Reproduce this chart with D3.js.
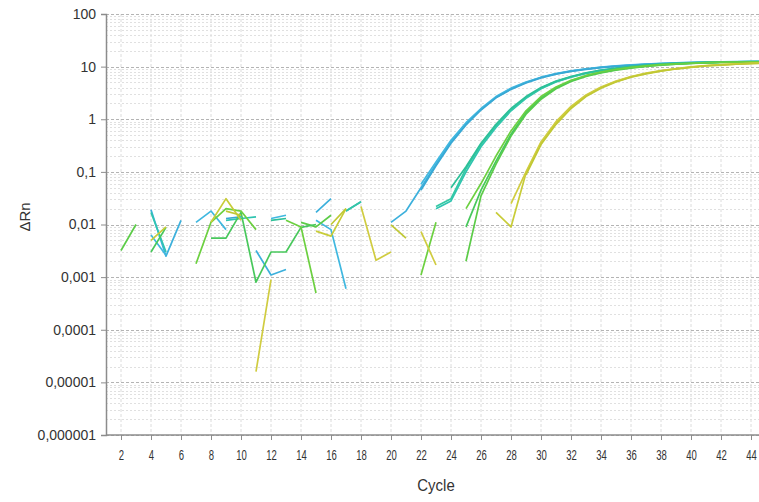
<!DOCTYPE html>
<html>
<head>
<meta charset="utf-8">
<script src="https://cdn.jsdelivr.net/npm/d3@7"></script>
<style>
  body { margin: 0; background: #fff; }
  text { font-family: "Liberation Sans", Arial, sans-serif; fill: #333; }
</style>
</head>
<body>
<script>

// cycle numbers, one value per cycle below (null = negative, not drawn on log axis)
var cycles = d3.range(1, 46);

var xTicks = [2,4,6,8,10,12,14,16,18,20,22,24,26,28,30,32,34,36,38,40,42,44];
var yTicks = [100, 10, 1, 0.1, 0.01, 0.001, 0.0001, 0.00001, 0.000001];
var yTickLabels = ["100","10","1","0,1","0,01","0,001","0,0001","0,00001","0,000001"];

var wellNames = ["B1","B2","B3","T1","T2","T3","G1","G2","G3","Y1","Y2","Y3"];
var wellColors = ["#3cb0dc","#40b8e0","#38a8d4",
                  "#2fc4b0","#34c8a4","#2cc098",
                  "#5ccc48","#48c85c","#6cd040",
                  "#c8cc38","#d0cc40","#c0c834"];

var B1 = [null,null,null,0.019,0.0025,0.012,null,null,null,null,
          0.0032,0.0011,0.0014,null,0.017,0.031,null,null,null,0.011,
          0.018,0.05,0.14,0.38,0.82,1.55,2.6,3.8,5.0,6.2,
          7.3,8.2,9.0,9.7,10.2,10.7,11.1,11.4,11.7,11.9,
          12.1,12.2,12.3,12.4,12.5];
var B2 = [null,null,null,0.0063,0.0026,null,0.011,0.018,0.008,null,
          null,0.013,0.015,null,0.012,0.008,0.0006,null,null,null,
          null,0.058,0.155,0.4,0.86,1.6,2.7,3.9,5.1,6.3,
          7.4,8.3,9.1,9.8,10.3,10.8,11.2,11.5,11.8,12.0,
          12.2,12.3,12.4,12.5,12.6];
var B3 = [null,null,null,null,null,null,null,null,0.013,0.014,
          null,null,null,null,null,null,0.018,0.027,null,null,
          null,0.045,0.13,0.35,0.78,1.5,2.55,3.7,4.9,6.1,
          7.2,8.1,8.9,9.6,10.1,10.6,11.0,11.3,11.6,11.8,
          12.0,12.1,12.2,12.3,12.4];
var T1 = [null,null,null,0.017,0.003,null,null,null,0.012,0.013,
          0.014,null,null,null,null,null,null,null,null,null,
          null,null,0.02,0.028,0.1,0.3,0.7,1.45,2.5,3.8,
          5.1,6.3,7.4,8.4,9.2,9.9,10.5,11.0,11.4,11.7,
          11.9,12.1,12.2,12.3,12.4];
var T2 = [null,null,null,null,null,null,null,null,null,null,
          null,null,null,null,null,null,0.018,0.027,null,null,
          null,null,0.022,0.031,0.115,0.33,0.75,1.5,2.6,3.9,
          5.2,6.4,7.5,8.5,9.3,10.0,10.6,11.1,11.5,11.8,
          12.0,12.2,12.3,12.4,12.5];
var T3 = [null,null,null,null,null,null,null,null,null,null,
          null,0.012,0.013,null,null,null,null,null,null,null,
          null,null,null,0.05,0.125,0.35,0.8,1.6,2.7,4.0,
          5.3,6.5,7.6,8.6,9.4,10.1,10.7,11.2,11.5,11.8,
          12.0,12.2,12.3,12.4,12.5];
var G1 = [null,0.0032,0.01,null,null,null,null,null,null,null,
          null,null,null,0.011,0.009,0.015,null,null,null,null,
          null,null,null,null,0.002,0.035,0.14,0.48,1.25,2.4,
          3.8,5.2,6.5,7.6,8.6,9.4,10.1,10.7,11.1,11.5,
          11.8,12.0,12.1,12.2,12.3];
var G2 = [null,null,null,0.003,0.0088,null,null,0.0055,0.0055,0.017,
          0.0008,0.003,0.003,0.0088,0.01,null,null,null,null,null,
          null,null,null,null,0.009,0.045,0.16,0.52,1.35,2.55,
          3.95,5.35,6.65,7.75,8.75,9.55,10.2,10.8,11.2,11.55,
          11.85,12.05,12.15,12.25,12.35];
var G3 = [null,null,null,null,null,null,0.0018,0.011,0.02,0.018,
          0.008,null,0.012,0.009,0.0005,null,null,null,null,null,
          null,0.0011,0.011,null,0.02,0.06,0.2,0.6,1.45,2.7,
          4.1,5.5,6.8,7.9,8.9,9.7,10.3,10.9,11.3,11.6,
          11.9,12.1,12.2,12.3,12.4];
var Y1 = [null,null,null,0.005,0.009,null,null,0.011,0.031,0.012,
          null,null,null,null,0.0075,0.006,0.02,null,null,null,
          null,null,null,null,null,null,0.017,0.009,0.095,0.35,
          0.85,1.7,2.8,4.0,5.2,6.4,7.4,8.3,9.1,9.8,
          10.4,10.8,11.2,11.5,11.7];
var Y2 = [null,null,null,null,null,null,null,null,null,null,
          0.000016,0.0009,null,null,null,null,null,0.022,0.0021,0.003,
          null,0.0073,0.0017,null,null,null,null,0.025,0.1,0.37,
          0.9,1.75,2.9,4.1,5.3,6.5,7.5,8.4,9.2,9.9,
          10.5,10.9,11.3,11.6,11.8];
var Y3 = [null,null,null,null,null,null,null,null,0.018,0.015,
          null,null,null,null,null,0.01,0.02,null,null,0.0098,
          0.0055,null,null,null,null,null,null,null,0.088,0.33,
          0.8,1.6,2.7,3.9,5.1,6.3,7.3,8.2,9.0,9.7,
          10.3,10.7,11.1,11.4,11.6];

var wellValues = [B1,B2,B3,T1,T2,T3,G1,G2,G3,Y1,Y2,Y3];

var width = 759,
    height = 502;

var margin = {left: 106, top: 14, bottom: 435};

var x = d3.scaleLinear().domain([1, 45]).range([margin.left, margin.left + 15 * 44]);
var y = d3.scaleLog().domain([0.000001, 100]).range([margin.bottom, margin.top]);

var svg = d3.select('body').append("svg")
            .attr("width", width)
            .attr("height", height);

svg.append("clipPath").attr("id", "plotclip")
   .append("rect")
   .attr("x", margin.left).attr("y", margin.top - 2)
   .attr("width", width - margin.left).attr("height", margin.bottom - margin.top + 2);

//vertical grid at even cycles
svg.append("g").selectAll("line")
   .data(xTicks)
   .enter().append("line")
   .attr("x1", d => x(d)).attr("x2", d => x(d))
   .attr("y1", margin.top).attr("y2", margin.bottom)
   .attr("stroke", "#dcdcdc")
   .attr("stroke-dasharray", "3,2");

//minor horizontal grid (2..9 of each decade)
var minor = [];
yTicks.forEach(function(t) {
  if (t >= 100) return;
  for (var k = 2; k <= 9; k++) minor.push(t * k);
});
svg.append("g").selectAll("line")
   .data(minor)
   .enter().append("line")
   .attr("x1", margin.left).attr("x2", width)
   .attr("y1", d => Math.round(y(d)) + 0.5).attr("y2", d => Math.round(y(d)) + 0.5)
   .attr("stroke", "#e0e0e0")
   .attr("stroke-dasharray", "2,2");

//major horizontal grid at decades
svg.append("g").selectAll("line")
   .data(yTicks)
   .enter().append("line")
   .attr("x1", margin.left).attr("x2", width)
   .attr("y1", d => Math.round(y(d)) + 0.5).attr("y2", d => Math.round(y(d)) + 0.5)
   .attr("stroke", "#b4b4b4")
   .attr("stroke-dasharray", "3,2");

//the curves
var line = d3.line()
    .defined(d => d.v != null)
    .x(d => x(d.c))
    .y(d => y(d.v));

svg.append("g").attr("clip-path", "url(#plotclip)")
   .selectAll("path")
   .data(wellNames)
   .enter().append("path")
   .attr("fill", "none")
   .attr("stroke", (d, i) => wellColors[i])
   .attr("stroke-width", 1.7)
   .attr("stroke-linejoin", "round")
   .attr("d", function(d, i) {
      return line(cycles.map((c, j) => ({c: c, v: wellValues[i][j]})));
   });

//axes
var yAxis = d3.axisLeft(y).tickValues(yTicks).tickSize(5).tickFormat((d, i) => yTickLabels[i]);
var gy = svg.append("g").attr("transform", "translate(" + margin.left + ",0)").call(yAxis);
gy.select(".domain").attr("stroke", "#8c8c8c").attr("stroke-width", 1.5);
gy.selectAll(".tick line").attr("stroke", "#8c8c8c");
gy.selectAll(".tick text")
  .attr("x", -10)
  .style("font-size", "14px")
  .style("font-family", "Liberation Sans, Arial, sans-serif")
  .attr("fill", "#333");

var xAxis = d3.axisBottom(x).tickValues(xTicks).tickSize(5).tickFormat(d3.format("d"));
var gx = svg.append("g").attr("transform", "translate(0," + margin.bottom + ")").call(xAxis);
gx.select(".domain").attr("stroke", "#8c8c8c").attr("stroke-width", 1.5)
  .attr("d", "M" + margin.left + ",0H" + width);
gx.selectAll(".tick line").attr("stroke", "#8c8c8c");
gx.selectAll(".tick text")
  .attr("y", 0).attr("dy", 0)
  .attr("transform", "translate(0,25) scale(0.68,1)")
  .style("font-size", "14px")
  .style("font-family", "Liberation Sans, Arial, sans-serif")
  .attr("fill", "#333");

//axis titles
svg.append("text")
   .attr("transform", "translate(436,491) scale(0.88,1)")
   .attr("text-anchor", "middle")
   .style("font-size", "17px")
   .text("Cycle");

svg.append("text")
   .attr("transform", "translate(30,217) rotate(-90)")
   .attr("text-anchor", "middle")
   .style("font-size", "15px")
   .text("ΔRn");

</script>
</body>
</html>
